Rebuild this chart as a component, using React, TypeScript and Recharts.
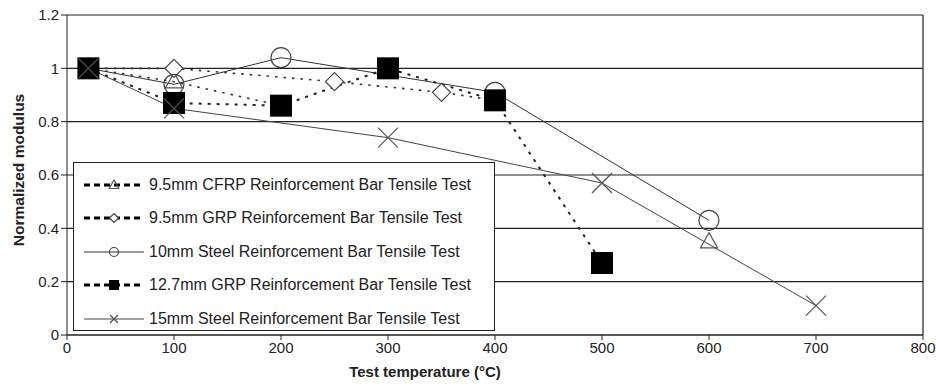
import React from 'react';
import {
  LineChart,
  Line,
  XAxis,
  YAxis,
  CartesianGrid,
  Legend,
  ReferenceLine
} from 'recharts';

// test temperature (°C) and normalized modulus
const cfrpTemp = [20, 100, 200, 400, 600];
const cfrpModulus = [1.0, 0.95, 0.86, null, 0.35];

const grp95Temp = [20, 100, 250, 350, 400];
const grp95Modulus = [1.0, 1.0, 0.95, 0.91, 0.88];

const steel10Temp = [20, 100, 200, 400, 600];
const steel10Modulus = [1.0, 0.94, 1.04, 0.91, 0.43];

const grp127Temp = [20, 100, 200, 300, 400, 500];
const grp127Modulus = [1.0, 0.87, 0.86, 1.0, 0.88, 0.27];

const steel15Temp = [20, 100, 300, 500, 700];
const steel15Modulus = [1.0, 0.85, 0.74, 0.57, 0.11];

const xTicks = [0, 100, 200, 300, 400, 500, 600, 700, 800];
const yTicks = [0, 0.2, 0.4, 0.6, 0.8, 1, 1.2];

const toRows = (temps: number[], vals: (number | null)[]) =>
  temps.map((t, i) => ({ t, v: vals[i] }));

type MarkerKind = 'triangle' | 'diamond' | 'circle' | 'square' | 'cross';

const Marker = ({ kind, cx, cy, s }: { kind: MarkerKind; cx: number; cy: number; s: number }) => {
  switch (kind) {
    case 'triangle':
      return (
        <polygon
          points={`${cx},${cy - s} ${cx + s * 0.95},${cy + s * 0.7} ${cx - s * 0.95},${cy + s * 0.7}`}
          fill="none"
          stroke="#555"
          strokeWidth={1.2}
        />
      );
    case 'diamond':
      return (
        <polygon
          points={`${cx},${cy - s} ${cx + s},${cy} ${cx},${cy + s} ${cx - s},${cy}`}
          fill="#fff"
          stroke="#444"
          strokeWidth={1.2}
        />
      );
    case 'circle':
      return <circle cx={cx} cy={cy} r={s} fill="none" stroke="#444" strokeWidth={1.2} />;
    case 'square':
      return <rect x={cx - s} y={cy - s} width={s * 2} height={s * 2} fill="#000" />;
    case 'cross':
      return (
        <g stroke="#555" strokeWidth={1.2}>
          <line x1={cx - s} y1={cy - s} x2={cx + s} y2={cy + s} />
          <line x1={cx - s} y1={cy + s} x2={cx + s} y2={cy - s} />
        </g>
      );
  }
  return null;
};

const dotFor = (kind: MarkerKind, s: number) => (props: any) => {
  const { cx, cy, index, value } = props;
  if (cx == null || cy == null || value == null) return <g key={`e-${index}`} />;
  return (
    <g key={`d-${index}`}>
      <Marker kind={kind} cx={cx} cy={cy} s={s} />
    </g>
  );
};

const series = [
  { name: '9.5mm CFRP Reinforcement Bar Tensile Test', temps: cfrpTemp, vals: cfrpModulus, kind: 'triangle' as MarkerKind, size: 9, stroke: '#333', width: 1.6, dash: '2.5 6' },
  { name: '9.5mm GRP Reinforcement Bar Tensile Test', temps: grp95Temp, vals: grp95Modulus, kind: 'diamond' as MarkerKind, size: 9, stroke: '#333', width: 1.6, dash: '2.5 6' },
  { name: '10mm Steel Reinforcement Bar Tensile Test', temps: steel10Temp, vals: steel10Modulus, kind: 'circle' as MarkerKind, size: 10, stroke: '#333', width: 1, dash: undefined },
  { name: '12.7mm GRP Reinforcement Bar Tensile Test', temps: grp127Temp, vals: grp127Modulus, kind: 'square' as MarkerKind, size: 11, stroke: '#222', width: 2, dash: '3 6' },
  { name: '15mm Steel Reinforcement Bar Tensile Test', temps: steel15Temp, vals: steel15Modulus, kind: 'cross' as MarkerKind, size: 10, stroke: '#444', width: 1, dash: undefined }
];

const legendMarkSize: Record<MarkerKind, number> = {
  triangle: 5,
  diamond: 4.5,
  circle: 4.5,
  square: 5,
  cross: 4
};

const LegendBox = () => (
  <div style={{ paddingTop: 5, paddingLeft: 8 }}>
    {series.map(s => (
      <div key={s.name} style={{ display: 'flex', alignItems: 'center', height: 33.5 }}>
        <svg width={66} height={20} style={{ flexShrink: 0 }}>
          <line
            x1={2}
            y1={10}
            x2={62}
            y2={10}
            stroke={s.dash ? '#000' : s.stroke}
            strokeWidth={s.dash ? 3 : 1.2}
            strokeDasharray={s.dash ? '6 4' : undefined}
          />
          <Marker kind={s.kind} cx={32} cy={10} s={legendMarkSize[s.kind]} />
        </svg>
        <span style={{ fontSize: 16, color: '#222', marginLeft: 1, whiteSpace: 'nowrap' }}>{s.name}</span>
      </div>
    ))}
  </div>
);

const App = () => (
  <div style={{ position: 'absolute', left: 0, top: 0, fontFamily: '"Liberation Sans", Arial, sans-serif' }}>
    <LineChart width={936} height={390} margin={{ top: 15, right: 13, bottom: 0, left: 0 }}>
      <CartesianGrid vertical={false} stroke="#222" strokeWidth={1.2} />
      <XAxis
        type="number"
        dataKey="t"
        domain={[0, 800]}
        ticks={xTicks}
        height={55}
        tickSize={5}
        tickMargin={2}
        stroke="#222"
        tick={{ fill: '#222', fontSize: 15 }}
        allowDuplicatedCategory={false}
        label={{
          content: ({ viewBox }: any) => (
            <text x={viewBox.x + 358} y={viewBox.y + 42} textAnchor="middle" fontSize={15} fontWeight="bold" fill="#222">
              Test temperature (°C)
            </text>
          )
        }}
      />
      <YAxis
        type="number"
        domain={[0, 1.2]}
        ticks={yTicks}
        width={67}
        tickSize={6}
        tickMargin={2}
        stroke="#222"
        tick={{ fill: '#222', fontSize: 15 }}
        label={{
          content: ({ viewBox }: any) => {
            const x = 20;
            const y = viewBox.y + viewBox.height / 2 - 5;
            return (
              <text x={x} y={y} transform={`rotate(-90, ${x}, ${y})`} textAnchor="middle" dominantBaseline="middle" fontSize={15.5} fontWeight="bold" fill="#222">
                Normalized modulus
              </text>
            );
          }
        }}
      />
      <ReferenceLine x={800} stroke="#222" strokeWidth={1.2} />
      {series.map(s => (
        <Line
          key={s.name}
          name={s.name}
          data={toRows(s.temps, s.vals)}
          dataKey="v"
          type="linear"
          stroke={s.stroke}
          strokeWidth={s.width}
          strokeDasharray={s.dash}
          dot={dotFor(s.kind, s.size)}
          activeDot={false}
          isAnimationActive={false}
        />
      ))}
      <Legend
        layout="vertical"
        align="center"
        verticalAlign="middle"
        content={() => <LegendBox />}
        wrapperStyle={{
          left: 73,
          top: 162,
          width: 422,
          height: 169,
          border: '1.3px solid #222',
          background: '#fff',
          boxSizing: 'border-box'
        }}
      />
    </LineChart>
  </div>
);

export default App;
